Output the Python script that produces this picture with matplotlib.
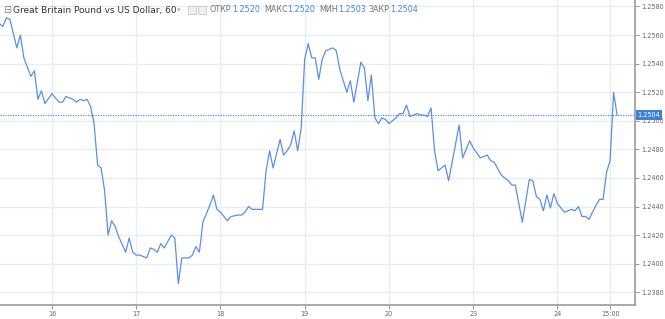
import numpy as np
import matplotlib
matplotlib.use('Agg')
import matplotlib.pyplot as plt
from matplotlib.patches import Rectangle

# hourly bars (index from first bar) and close prices
bars = [0, 1, 2, 3, 4, 5, 6, 7, 9, 10, 11, 12, 13, 15, 17, 18, 19, 21, 22, 23,
        24, 25, 26, 27, 28, 29, 30, 31, 32, 33, 34, 36, 37, 38, 39, 40, 42, 43, 44, 45,
        46, 47, 49, 50, 51, 52, 54, 55, 56, 57, 58, 60, 61, 62, 63, 65, 66, 68, 69, 70,
        71, 72, 75, 76, 77, 78, 80, 81, 82, 83, 84, 85, 86, 87, 88, 89, 90, 91, 92, 93,
        95, 96, 97, 99, 100, 101, 103, 104, 105, 106, 107, 108, 109, 110, 111, 112, 113, 114, 115, 116,
        117, 119, 120, 121, 122, 123, 124, 125, 127, 128, 130, 131, 132, 134, 135, 137, 139, 140, 141, 143,
        145, 146, 147, 149, 151, 152, 153, 154, 155, 156, 157, 158, 159, 161, 162, 163, 164, 165, 166, 167,
        168, 170, 171, 172, 173, 174, 175, 176]
price = [1.2568, 1.2566, 1.2572, 1.2571, 1.2561, 1.2551, 1.2560, 1.2544, 1.2531, 1.2535,
         1.2515, 1.2521, 1.2512, 1.2519, 1.2513, 1.2513, 1.2517, 1.2515, 1.2513, 1.2515,
         1.2514, 1.2515, 1.2510, 1.2498, 1.2469, 1.2467, 1.2451, 1.2420, 1.2430, 1.2426,
         1.2419, 1.2408, 1.2418, 1.2408, 1.2406, 1.2406, 1.2404, 1.2411, 1.2410, 1.2408,
         1.2414, 1.2411, 1.2420, 1.2418, 1.2386, 1.2404, 1.2404, 1.2406, 1.2412, 1.2408,
         1.2429, 1.2441, 1.2448, 1.2438, 1.2436, 1.2430, 1.2433, 1.2434, 1.2434, 1.2436,
         1.2440, 1.2438, 1.2438, 1.2465, 1.2479, 1.2467, 1.2487, 1.2476, 1.2479, 1.2483,
         1.2493, 1.2479, 1.2495, 1.2543, 1.2554, 1.2544, 1.2544, 1.2529, 1.2543, 1.2549,
         1.2551, 1.2549, 1.2536, 1.2520, 1.2528, 1.2513, 1.2541, 1.2537, 1.2514, 1.2532,
         1.2502, 1.2498, 1.2502, 1.2501, 1.2498, 1.2500, 1.2502, 1.2505, 1.2505, 1.2511,
         1.2503, 1.2505, 1.2504, 1.2504, 1.2503, 1.2509, 1.2479, 1.2465, 1.2469, 1.2458,
         1.2484, 1.2497, 1.2474, 1.2486, 1.2481, 1.2474, 1.2476, 1.2472, 1.2471, 1.2462,
         1.2458, 1.2455, 1.2455, 1.2429, 1.2459, 1.2458, 1.2447, 1.2445, 1.2437, 1.2448,
         1.2439, 1.2449, 1.2442, 1.2436, 1.2437, 1.2438, 1.2437, 1.2440, 1.2433, 1.2433,
         1.2431, 1.2441, 1.2445, 1.2445, 1.2464, 1.2472, 1.2520, 1.2504]

day_ticks = [15, 39, 63, 87, 111, 135, 159, 174]
day_labels = ['16', '17', '18', '19', '20', '23', '24', '15:00']
price_ticks = [1.2380, 1.2400, 1.2420, 1.2440, 1.2460, 1.2480, 1.2500, 1.2520, 1.2540, 1.2560, 1.2580]
last_price = 1.2504
ohlc_names = ['ОТКР', 'МАКС', 'МИН', 'ЗАКР']
ohlc_vals = ['1.2520', '1.2520', '1.2503', '1.2504']

blue = '#5d8fe3'
grid_c = '#e6edf5'

fig = plt.figure(figsize=(6.65, 3.19), dpi=100)
ax = fig.add_axes([0, 0.044, 635 / 665, 0.956])

ax.plot(bars, price, color=blue, lw=0.9, zorder=3)
ax.axhline(last_price, color=blue, lw=0.9, ls=(0, (1, 1)), zorder=2)

ax.set_xlim(0.2, 181.1)
ax.set_ylim(1.23711, 1.25845)

ax.set_xticks(day_ticks)
ax.set_xticklabels(day_labels)
ax.set_yticks(price_ticks)
ax.set_yticklabels(['%.4f' % v for v in price_ticks])
ax.yaxis.tick_right()
ax.grid(True, color=grid_c, lw=1)
ax.set_axisbelow(True)

for s in ['left', 'top']:
    ax.spines[s].set_visible(False)
for s in ['right', 'bottom']:
    ax.spines[s].set_color('#9a9a9a')
    ax.spines[s].set_linewidth(1.2)
ax.tick_params(axis='both', colors='#9a9a9a', length=3, width=0.8, pad=1.5,
               labelsize=4.7, labelcolor='#666666')

# last price marker on the right axis
ax.text(1.004, last_price, '%.4f' % last_price, transform=ax.get_yaxis_transform(),
        fontsize=4.7, color='white', va='center', ha='left', zorder=10,
        bbox=dict(boxstyle='square,pad=0.3', fc='#3f7fdc', ec='none'), clip_on=False)

# header line
fig.text(3 / 665, 1 - 10 / 319, '⊟', fontsize=7, color='#888888', va='center')
fig.text(13 / 665, 1 - 10 / 319, 'Great Britain Pound vs US Dollar, 60', fontsize=6.5,
         color='#333333', va='center')
fig.text(177 / 665, 1 - 10 / 319, '▾', fontsize=5, color='#aaaaaa', va='center')
for xp in [188, 198]:
    fig.patches.append(Rectangle((xp / 665, 1 - 14 / 319), 8 / 665, 8 / 319,
                                 transform=fig.transFigure, fc='#eeeeee', ec='#c8c8c8', lw=0.6))
xs_name = [209, 264, 319, 369]
xs_val = [232, 287, 338, 390]
for nm, vl, xn, xv in zip(ohlc_names, ohlc_vals, xs_name, xs_val):
    fig.text(xn / 665, 1 - 10 / 319, nm, fontsize=5.8, color='#777777', va='center')
    fig.text(xv / 665, 1 - 10 / 319, vl, fontsize=5.8, color='#4a86dd', va='center')

fig.savefig('out.png', dpi=100)
